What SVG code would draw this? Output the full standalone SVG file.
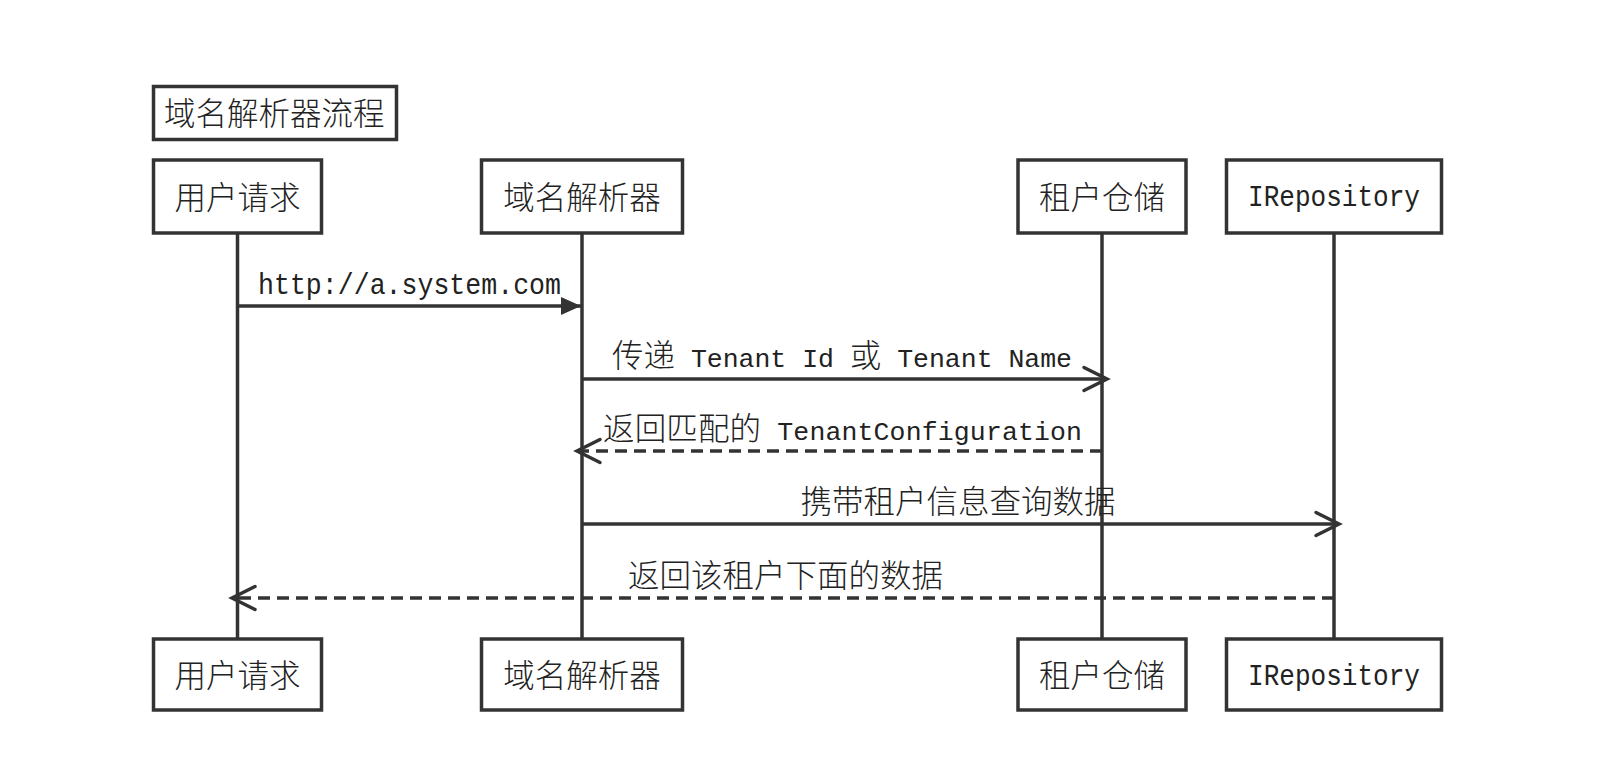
<svg xmlns="http://www.w3.org/2000/svg" width="1617" height="765" viewBox="0 0 1617 765">
  <style>
    .box { fill: #ffffff; stroke: #333333; stroke-width: 3.5; }
    .life { stroke: #333333; stroke-width: 3.5; fill: none; }
    .msg { stroke: #333333; stroke-width: 3.5; fill: none; }
    .dash { stroke-dasharray: 12 7; }
    .t { font-family: "Liberation Mono", "Noto Sans CJK SC", monospace; font-size: 26.5px; fill: #222222; }
    .tl { font-size: 29px; }
    .c { font-family: "Noto Sans CJK SC", sans-serif; font-size: 31.5px; font-weight: 300; fill: #222222; }
    .mid { text-anchor: middle; }
  </style>
  <defs>
    <marker id="filled" markerUnits="userSpaceOnUse" viewBox="-24 -12 26 24" refX="0" refY="0" markerWidth="26" markerHeight="24" orient="auto">
      <path d="M-20,-9 L0,0 L-20,9 Z" fill="#333333"/>
    </marker>
    <marker id="open" markerUnits="userSpaceOnUse" viewBox="-28 -15 32 30" refX="0" refY="0" markerWidth="32" markerHeight="30" orient="auto">
      <path d="M-23,-11.5 L0,0 L-23,11.5" fill="none" stroke="#333333" stroke-width="3.5" stroke-linecap="round" stroke-linejoin="miter"/>
    </marker>
  </defs>
  <rect width="1617" height="765" fill="#ffffff"/>

  <g id="connectors">
    <line class="life" x1="237.5" y1="234" x2="237.5" y2="638"/>
    <line class="life" x1="582" y1="234" x2="582" y2="638"/>
    <line class="life" x1="1102" y1="234" x2="1102" y2="638"/>
    <line class="life" x1="1334" y1="234" x2="1334" y2="638"/>

    <g id="msg1">
      <line class="msg" x1="237.5" y1="306" x2="581" y2="306" marker-end="url(#filled)"/>
      <text class="t tl" x="258" y="294" textLength="303" lengthAdjust="spacingAndGlyphs">http://a.system.com</text>
    </g>
    <g id="msg2">
      <line class="msg" x1="582" y1="379" x2="1107" y2="379" marker-end="url(#open)"/>
      <text class="t" x="612" y="367" textLength="460" lengthAdjust="spacing"><tspan class="c">传递</tspan> Tenant Id <tspan class="c">或</tspan> Tenant Name</text>
    </g>
    <g id="msg3">
      <line class="msg dash" x1="1102" y1="451" x2="577" y2="451" marker-end="url(#open)"/>
      <text class="t" x="603" y="440" textLength="479" lengthAdjust="spacing"><tspan class="c">返回匹配的</tspan> TenantConfiguration</text>
    </g>
    <g id="msg4">
      <line class="msg" x1="582" y1="524" x2="1339" y2="524" marker-end="url(#open)"/>
      <text class="c mid" x="958" y="513">携带租户信息查询数据</text>
    </g>
    <g id="msg5">
      <line class="msg dash" x1="1334" y1="598" x2="232" y2="598" marker-end="url(#open)"/>
      <text class="c mid" x="785.5" y="587">返回该租户下面的数据</text>
    </g>
  </g>

  <g id="title">
    <rect class="box" x="153.5" y="86.5" width="243" height="53"/>
    <text class="c" x="164" y="125">域名解析器流程</text>
  </g>

  <g id="user-top">
    <rect class="box" x="153.5" y="160" width="168" height="73"/>
    <text class="c mid" x="237.5" y="208.5">用户请求</text>
  </g>
  <g id="resolver-top">
    <rect class="box" x="481.5" y="160" width="201" height="73"/>
    <text class="c mid" x="582" y="208.5">域名解析器</text>
  </g>
  <g id="tenantstore-top">
    <rect class="box" x="1018" y="160" width="168" height="73"/>
    <text class="c mid" x="1102" y="208.5">租户仓储</text>
  </g>
  <g id="irepository-top">
    <rect class="box" x="1226.5" y="160" width="215" height="73"/>
    <text class="t tl mid" x="1334" y="206" textLength="172" lengthAdjust="spacingAndGlyphs">IRepository</text>
  </g>

  <g id="user-bottom">
    <rect class="box" x="153.5" y="639" width="168" height="71"/>
    <text class="c mid" x="237.5" y="687">用户请求</text>
  </g>
  <g id="resolver-bottom">
    <rect class="box" x="481.5" y="639" width="201" height="71"/>
    <text class="c mid" x="582" y="687">域名解析器</text>
  </g>
  <g id="tenantstore-bottom">
    <rect class="box" x="1018" y="639" width="168" height="71"/>
    <text class="c mid" x="1102" y="687">租户仓储</text>
  </g>
  <g id="irepository-bottom">
    <rect class="box" x="1226.5" y="639" width="215" height="71"/>
    <text class="t tl mid" x="1334" y="685" textLength="172" lengthAdjust="spacingAndGlyphs">IRepository</text>
  </g>
</svg>
